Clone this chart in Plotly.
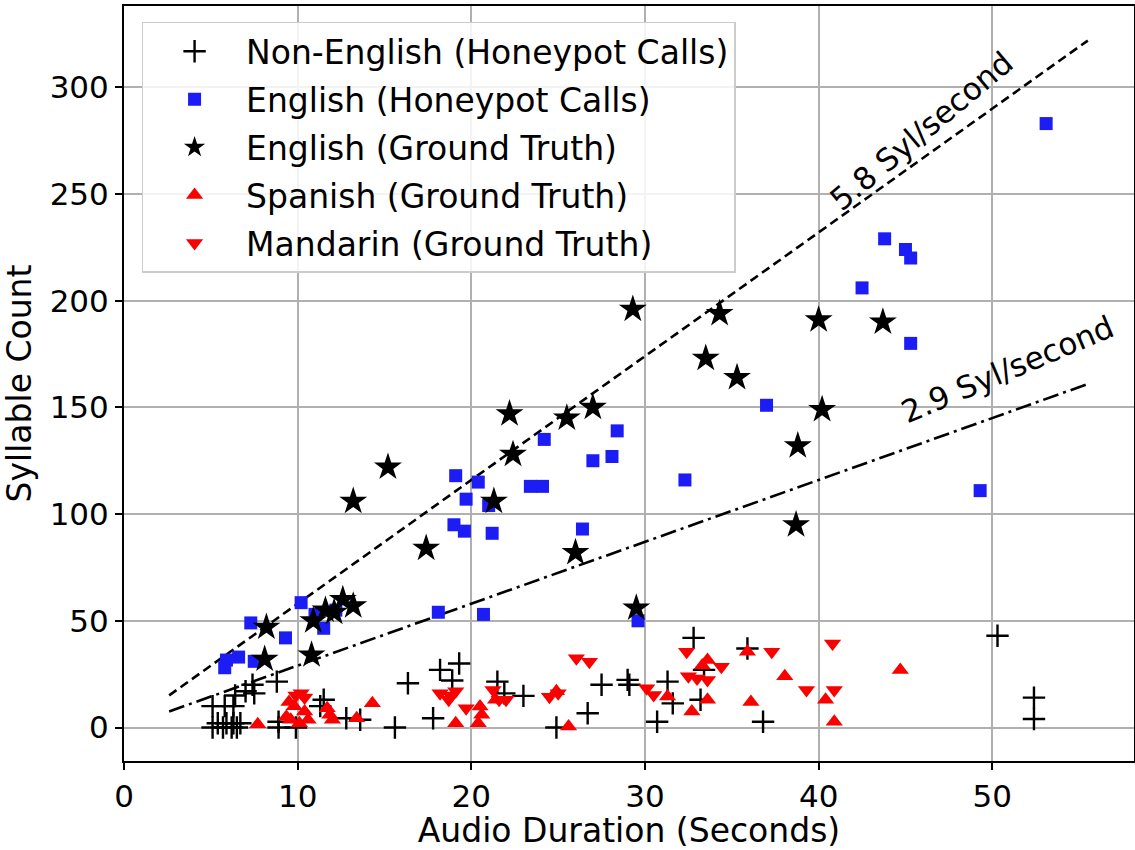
import plotly.graph_objects as go

# ---------------- data ----------------
non_eng_x = [16.35, 8.8, 7.4, 7.0, 7.5, 6.4, 5.1, 5.8, 6.3, 5.4, 5.9, 6.3, 6.7, 5.1, 5.7, 6.2, 6.5,
             8.9, 8.9, 9.9, 11.5, 11.3, 12.8, 13.6, 15.6, 18.2, 19.3, 18.9, 17.8, 21.5, 21.9, 23.0,
             24.9, 26.7, 27.5, 29.0, 29.1, 30.7, 31.3, 32.8, 31.6, 33.2, 33.4, 35.9, 36.8, 50.3, 52.4, 52.4]
non_eng_y = [20.7, 21.5, 20.0, 17.0, 16.0, 15.0, 10.0, 10.0, 10.0, 2.0, 2.0, 2.0, 2.0, 0.0, 0.0, 0.0, 0.0,
             2.7, 0.0, 0.0, 13.0, 10.0, 4.3, 3.6, 0.0, 27.0, 30.0, 22.0, 4.3, 21.5, 16.0, 14.8,
             0.0, 6.7, 20.0, 22.3, 20.0, 2.7, 21.5, 42.0, 11.3, 13.0, 27.0, 37.0, 2.7, 43.0, 14.0, 4.0]

eng_hp_x = [53.1, 43.8, 45.0, 45.3, 42.5, 45.3, 37.0, 32.3, 49.3, 24.2, 28.4, 27.0, 28.1, 23.4, 24.1,
            19.1, 20.4, 19.7, 21.0, 19.0, 19.6, 21.2, 26.4, 18.1, 20.7, 29.6, 10.2, 7.3, 9.3, 11.5,
            5.9, 6.6, 5.8, 7.5, 12.2, 11.0]
eng_hp_y = [283, 229, 224, 220, 206, 180, 151, 116, 111, 135, 139, 125, 127, 113, 113,
            118, 115, 107, 104, 95, 92, 91, 93, 54, 53, 50, 58.5, 49, 42, 46.5,
            31.6, 33, 28, 31, 55, 53]

eng_gt_x = [29.3, 34.3, 40.0, 43.7, 33.5, 35.3, 27.0, 22.2, 25.5, 40.2, 38.8, 22.4, 15.2, 13.2, 21.3,
            38.7, 17.4, 26.0, 29.5, 10.9, 11.6, 12.1, 12.6, 13.2, 10.8, 8.2, 8.1]
eng_gt_y = [196, 194, 191, 190, 173, 164, 150, 147, 145, 149, 132, 128, 122, 106, 106,
            95, 84, 82, 56, 50, 55, 54, 60, 57, 34, 47, 32]

spa_x = [7.7, 14.3, 13.4, 11.7, 11.85, 12.0, 9.5, 9.8, 9.35, 9.6, 10.4, 10.6, 10.1,
         19.1, 20.5, 20.6, 20.4, 21.4, 24.9, 25.6, 31.3, 32.7, 33.6, 33.3, 35.9, 38.05, 44.7,
         33.6, 36.1, 40.4, 40.9]
spa_y = [1.5, 11.4, 4.3, 9.0, 6.0, 3.6, 12.0, 10.0, 5.0, 3.6, 7.5, 3.6, 2.0,
         2.0, 9.8, 6.0, 2.0, 13.0, 17.0, 0.5, 14.5, 7.5, 31.6, 29.0, 35.5, 24.0, 27.0,
         13.0, 12.0, 13.0, 2.7]

man_x = [10.2, 10.4, 9.9, 18.2, 18.8, 19.1, 18.7, 19.7, 21.25, 21.6, 22.0, 24.5, 25.0, 26.05, 26.8,
         30.1, 30.5, 32.4, 32.5, 33.0, 33.6, 34.4, 37.3, 40.8, 39.3, 40.9]
man_y = [16.0, 14.0, 15.0, 16.0, 15.0, 17.0, 13.0, 9.0, 17.6, 13.0, 13.0, 14.4, 16.0, 32.4, 30.8,
         18.4, 15.2, 35.5, 24.0, 23.0, 22.3, 28.5, 35.5, 39.4, 17.6, 17.6]

rate_fast = 5.8
rate_slow = 2.9
line_x = [2.6, 55.5]

x_ticks = [0, 10, 20, 30, 40, 50]
y_ticks = [0, 50, 100, 150, 200, 250, 300]

FONT = "DejaVu Sans, Liberation Sans, sans-serif"

fig = go.Figure()

# reference lines (not in legend)
fig.add_trace(go.Scatter(x=line_x, y=[rate_fast * v for v in line_x], mode="lines",
                         line=dict(color="black", width=2.6, dash="9px,5px"),
                         showlegend=False, hoverinfo="skip"))
fig.add_trace(go.Scatter(x=line_x, y=[rate_slow * v for v in line_x], mode="lines",
                         line=dict(color="black", width=2.6, dash="16px,5px,3px,5px"),
                         showlegend=False, hoverinfo="skip"))

fig.add_trace(go.Scatter(x=non_eng_x, y=non_eng_y, mode="markers",
                         name="Non-English (Honeypot Calls)", legendgroup="a",
                         marker=dict(symbol="cross-thin", size=16, color="black",
                                     line=dict(color="black", width=2.4))))
fig.add_trace(go.Scatter(x=eng_hp_x, y=eng_hp_y, mode="markers",
                         name="English (Honeypot Calls)", legendgroup="b",
                         marker=dict(symbol="square", size=13, color="rgb(28,28,245)",
                                     line=dict(width=0))))
fig.add_trace(go.Scatter(x=eng_gt_x, y=eng_gt_y, mode="markers",
                         name="English (Ground Truth)", legendgroup="c",
                         marker=dict(symbol="star", size=21, color="black",
                                     line=dict(width=0))))
fig.add_trace(go.Scatter(x=spa_x, y=spa_y, mode="markers",
                         name="Spanish (Ground Truth)", legendgroup="d",
                         marker=dict(symbol="triangle-up", size=15, color="rgb(250,0,0)",
                                     line=dict(width=0))))
fig.add_trace(go.Scatter(x=man_x, y=man_y, mode="markers",
                         name="Mandarin (Ground Truth)", legendgroup="e",
                         marker=dict(symbol="triangle-down", size=15, color="rgb(250,0,0)",
                                     line=dict(width=0))))

fig.add_annotation(x=45.9, y=279.5, text="5.8 Syl/second", showarrow=False, textangle=-40,
                   font=dict(family=FONT, size=31, color="black"))
fig.add_annotation(x=50.9, y=168, text="2.9 Syl/second", showarrow=False, textangle=-23,
                   font=dict(family=FONT, size=31, color="black"))

axis_common = dict(showgrid=True, gridcolor="#b0b0b0", gridwidth=1.5,
                   showline=True, linecolor="black", linewidth=2, mirror=True,
                   ticks="outside", ticklen=7, tickwidth=1.5, tickcolor="black",
                   zeroline=False, automargin=False,
                   tickfont=dict(family=FONT, size=31, color="black"))

fig.update_layout(
    width=1135, height=850,
    margin=dict(l=124, r=1, t=6, b=89),
    plot_bgcolor="white", paper_bgcolor="white",
    font=dict(family=FONT, size=31, color="black"),
    xaxis=dict(range=[0, 58.16], tickvals=x_ticks,
               title=dict(text="Audio Duration (Seconds)", font=dict(family=FONT, size=33), standoff=6),
               **axis_common),
    yaxis=dict(range=[-15.7, 338.1], tickvals=y_ticks,
               title=dict(text="Syllable Count", font=dict(family=FONT, size=33), standoff=12),
               **axis_common),
    legend=dict(x=0.0174, y=0.979, xanchor="left", yanchor="top",
                bgcolor="rgba(255,255,255,0.85)", bordercolor="#cccccc", borderwidth=1.5,
                font=dict(family=FONT, size=33), tracegroupgap=2, itemwidth=93),
    showlegend=True,
)

fig.write_html("out.html", config={"displayModeBar": False},
               post_script="document.body.style.margin='0';document.body.style.overflow='hidden';")
